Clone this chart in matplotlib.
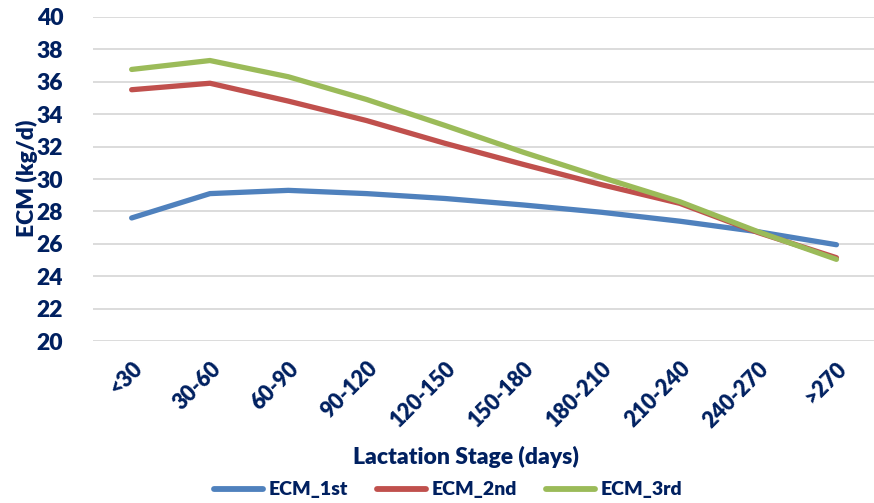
import matplotlib
matplotlib.use("Agg")
import matplotlib.pyplot as plt

plt.rcParams['font.family'] = ['Lato', 'DejaVu Sans']

# lactation stage buckets (days in milk)
stages = ['<30', '30-60', '60-90', '90-120', '120-150', '150-180',
          '180-210', '210-240', '240-270', '>270']

# energy corrected milk, kg/d, by parity
ecm_1st = [27.6, 29.1, 29.3, 29.1, 28.8, 28.4, 27.95, 27.4, 26.75, 25.95]
ecm_2nd = [35.5, 35.9, 34.8, 33.6, 32.2, 30.9, 29.65, 28.5, 26.7, 25.15]
ecm_3rd = [36.75, 37.3, 36.3, 34.9, 33.3, 31.65, 30.1, 28.6, 26.75, 25.05]

navy = '#002060'
W, H = 874, 503
bold = 'heavy'

fig = plt.figure(figsize=(W / 100, H / 100), dpi=100)
ax = fig.add_axes([92.5 / W, 1 - 341.3 / H, (875.6 - 92.5) / W, (341.3 - 16.7) / H])

x = range(len(stages))
series = [('ECM_1st', ecm_1st, '#4f81bd'),
          ('ECM_2nd', ecm_2nd, '#c0504d'),
          ('ECM_3rd', ecm_3rd, '#9bbb59')]
for name, vals, col in series:
    ax.plot(x, vals, color=col, lw=3.8, label=name,
            solid_capstyle='round', solid_joinstyle='round', zorder=3)

ax.set_xlim(-0.5, len(stages) - 0.5)
ax.set_ylim(20, 40)
ax.set_yticks(range(20, 41, 2))
ax.grid(axis='y', color='#d9d9d9', lw=1.3, zorder=0)
for s in ax.spines.values():
    s.set_visible(False)
ax.tick_params(axis='both', length=0)
ax.tick_params(axis='y', pad=21, labelsize=16.5, labelcolor=navy)
ax.tick_params(axis='x', pad=12, labelsize=15.5, labelcolor=navy)
ax.set_xticks(list(x))
ax.set_xticklabels(stages, rotation=45, ha='right', va='top',
                   rotation_mode='anchor')
for lab in ax.get_xticklabels() + ax.get_yticklabels():
    lab.set_fontweight(bold)

fig.text(27 / W, 1 - 178 / H, 'ECM (kg/d)', rotation=90, ha='center',
         va='center', fontsize=16.5, fontweight=bold, color=navy)
fig.text(466 / W, 1 - 457 / H, 'Lactation Stage (days)', ha='center',
         va='center', fontsize=16.5, fontweight=bold, color=navy)

leg = fig.legend(loc='center', bbox_to_anchor=(448 / W, 1 - 490 / H), ncol=3,
                 frameon=False, handlelength=2.5, handletextpad=0.3,
                 columnspacing=1.5, prop={'weight': bold, 'size': 14})
for t in leg.get_texts():
    t.set_color(navy)
for h in leg.get_lines():
    h.set_linewidth(4.2)

fig.savefig('out.png', dpi=100)
